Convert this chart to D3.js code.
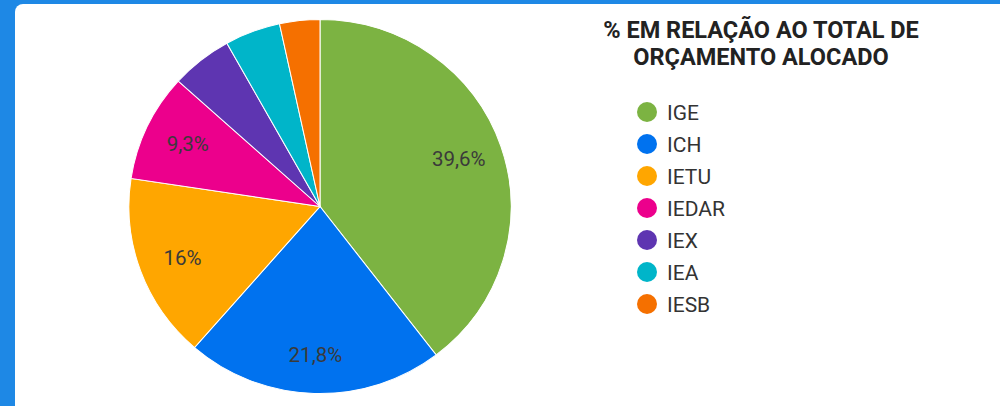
<!DOCTYPE html>
<html>
<head>
<meta charset="utf-8">
<script src="https://cdn.jsdelivr.net/npm/d3@7"></script>
<style>
  html, body { margin: 0; padding: 0; }
  body { width: 1000px; height: 406px; background: #1e88e5; overflow: hidden; }
  #card { position: absolute; left: 15px; top: 4px; right: 0; bottom: 0;
          background: #fff; border-top-left-radius: 8px; }
  #chart { position: absolute; left: 0; top: 0; }
</style>
</head>
<body>
<div id="card"></div>
<div id="chart"></div>
<script>
// slice names and shares (%), clockwise from 12 o'clock
var categories = ["IGE", "ICH", "IETU", "IEDAR", "IEX", "IEA", "IESB"];
var shares = [39.6, 21.8, 16, 9.3, 5.2, 4.7, 3.4];
var sliceLabels = ["39,6%", "21,8%", "16%", "9,3%", "", "", ""];
var palette = ["#7cb342", "#0072ef", "#ffa600", "#ec008c", "#5e35b1", "#00b5c9", "#f57000"];
var titleLines = ["% EM RELAÇÃO AO TOTAL DE", "ORÇAMENTO ALOCADO"];

var width = 1000, height = 406;
var cx = 320, cy = 206.5, radius = 187, xStretch = 1.022;

var data = categories.map(function (c, i) {
  return { name: c, value: shares[i], label: sliceLabels[i] };
});

var svg = d3.select("#chart")
  .append("svg")
  .attr("width", width)
  .attr("height", height)
  .style("font-family", "Roboto, sans-serif");

var colour = d3.scaleOrdinal().domain(categories).range(palette);

var pie = d3.pie().sort(null).value(function (d) { return d.value; });
var arc = d3.arc().innerRadius(0).outerRadius(radius);
var labelArc = d3.arc().innerRadius(radius * 0.79).outerRadius(radius * 0.79);

var g = svg.append("g")
  .attr("transform", "translate(" + cx + "," + cy + ")");

var arcs = pie(data);

// the reference pie is a touch wider than tall
g.append("g")
  .attr("transform", "scale(" + xStretch + ",1)")
  .selectAll("path")
  .data(arcs)
  .enter()
  .append("path")
  .attr("d", arc)
  .attr("fill", function (d) { return colour(d.data.name); })
  .attr("stroke", "#fff")
  .attr("stroke-width", 1);

g.selectAll("text.slice-label")
  .data(arcs)
  .enter()
  .append("text")
  .attr("class", "slice-label")
  .attr("transform", function (d) {
    var c = labelArc.centroid(d);
    return "translate(" + (c[0] * xStretch * 0.97) + "," + c[1] + ")";
  })
  .attr("text-anchor", "middle")
  .attr("dy", "0.36em")
  .attr("fill", "#3a3a3a")
  .style("font-size", "20.5px")
  .text(function (d) { return d.data.label; });

// legend title
var title = svg.append("text")
  .attr("x", 761)
  .attr("y", 38)
  .attr("text-anchor", "middle")
  .attr("fill", "#222")
  .style("font-size", "23.5px")
  .style("font-weight", "bold");

title.selectAll("tspan")
  .data(titleLines)
  .enter()
  .append("tspan")
  .attr("x", 761)
  .attr("dy", function (d, i) { return i === 0 ? 0 : 27; })
  .text(function (d) { return d; });

// legend items
var legendY = d3.scaleBand().domain(categories).range([96, 320]);

var items = svg.selectAll("g.legend")
  .data(categories)
  .enter()
  .append("g")
  .attr("class", "legend")
  .attr("transform", function (d) {
    return "translate(647," + (legendY(d) + legendY.bandwidth() / 2) + ")";
  });

items.append("circle")
  .attr("r", 10)
  .attr("fill", function (d) { return colour(d); });

items.append("text")
  .attr("x", 20)
  .attr("dy", "0.36em")
  .attr("fill", "#333")
  .style("font-size", "21px")
  .text(function (d) { return d; });
</script>
</body>
</html>
